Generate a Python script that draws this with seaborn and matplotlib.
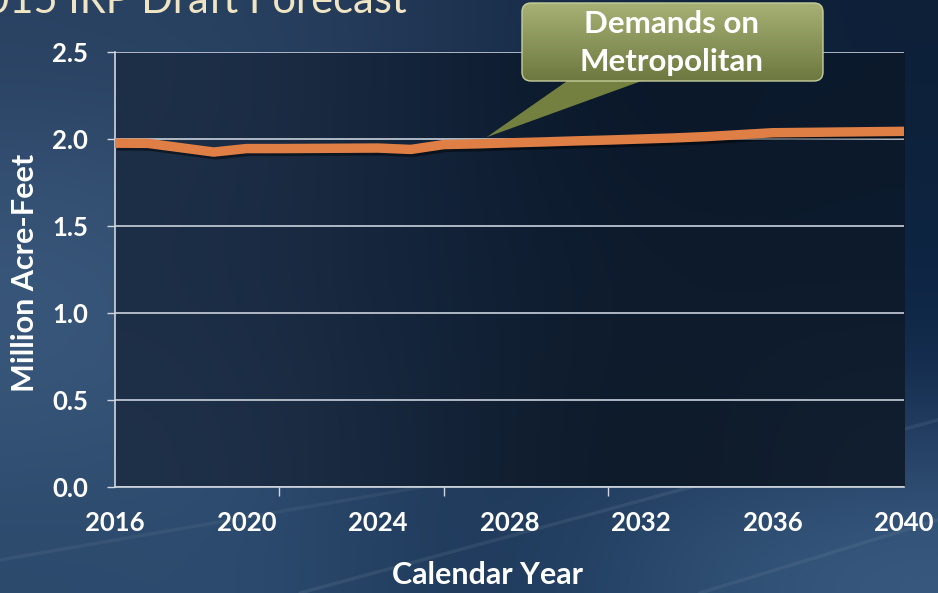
import numpy as np
import pandas as pd
import matplotlib
matplotlib.use("Agg")
import matplotlib.pyplot as plt
import matplotlib.patheffects as pe
from matplotlib.patches import FancyBboxPatch, Polygon
from matplotlib.colors import to_rgb
import seaborn as sns

# ---- data -------------------------------------------------------------
years = list(range(2016, 2041))
demand_maf = [1.976, 1.975, 1.950, 1.925, 1.945, 1.945, 1.946, 1.947, 1.948,
              1.940, 1.968, 1.972, 1.978, 1.983, 1.989, 1.994, 2.000, 2.006,
              2.014, 2.025, 2.036, 2.038, 2.040, 2.042, 2.044]
x_label_years = [2016, 2020, 2024, 2028, 2032, 2036, 2040]
x_mark_years = [2016, 2021, 2026, 2031, 2036]
y_ticks = [0.0, 0.5, 1.0, 1.5, 2.0, 2.5]

title_text = "2015 IRP Draft Forecast"
callout_lines = ["Demands on", "Metropolitan"]
x_title = "Calendar Year"
y_title = "Million Acre-Feet"

df = pd.DataFrame({"year": years, "demand": demand_maf})

plt.rcParams["font.family"] = ["Lato", "DejaVu Sans"]

W, H = 938, 593
fig = plt.figure(figsize=(W / 100, H / 100), dpi=100)


def rgb_grid(rows):
    return np.array([[to_rgb(c) for c in r] for r in rows])


# ---- slide backdrop ---------------------------------------------------
bg = fig.add_axes([0, 0, 1, 1], zorder=0)
backdrop = rgb_grid([
    ["#2a4262", "#28405f", "#1e3350", "#122540", "#0e2038"],
    ["#38567a", "#2e4a6c", "#1a2e48", "#10223a", "#0c2440"],
    ["#3a587b", "#2f4c6e", "#203858", "#1a3250", "#10284a"],
    ["#2c4a6c", "#2d4c70", "#1c3656", "#2a4a6e", "#3a5a80"],
])
bg.imshow(backdrop, extent=[0, W, H, 0], interpolation="bicubic", aspect="auto")
# faint diagonal light streaks across the backdrop
for (x0, y0, x1, y1, a) in [(300, 593, 938, 420, 0.07), (0, 560, 520, 470, 0.05),
                            (700, 593, 938, 520, 0.06)]:
    bg.plot([x0, x1], [y0, y1], color="white", alpha=a, lw=2.5,
            solid_capstyle="round")
bg.set_xlim(0, W)
bg.set_ylim(H, 0)
bg.axis("off")

fig.text(407 / W, (H - 12.7) / H, title_text, ha="right", va="baseline",
         fontsize=30, color="#efe4c4")

# ---- chart area -------------------------------------------------------
ax = fig.add_axes([115 / W, 106 / H, 789 / W, 435 / H], zorder=1)
ax.patch.set_alpha(0)
plot_shade = rgb_grid([
    ["#1e3048", "#14243a", "#0a1628", "#0b1a2c"],
    ["#1c2e46", "#13233a", "#0e1c2e", "#0c1a2c"],
    ["#1f3149", "#16263c", "#0c1826", "#121f30"],
])
ax.imshow(plot_shade, extent=[0, 1, 0, 1], transform=ax.transAxes,
          interpolation="bicubic", aspect="auto", zorder=0)

sns.lineplot(data=df, x="year", y="demand", ax=ax, color="#e07f45",
             linewidth=6.8, solid_capstyle="butt", zorder=4,
             path_effects=[pe.SimpleLineShadow(offset=(1.5, -2), alpha=0.45,
                                               shadow_color="black"),
                           pe.Normal()])

ax.set_xlim(years[0], years[-1])
ax.set_ylim(y_ticks[0], y_ticks[-1])
ax.set_aspect("auto")

axis_col = "#d0d6de"
ax.set_yticks(y_ticks)
ax.set_yticklabels([f"{v:.1f}" for v in y_ticks], fontweight="bold")
ax.grid(axis="y", color="#c9d1dc", linewidth=1.2, zorder=1)
ax.grid(axis="x", visible=False)
ax.tick_params(axis="y", length=6, width=1, color=axis_col, pad=13.5,
               labelsize=18.5, labelcolor="white")

ax.set_xticks(x_label_years)
ax.set_xticklabels([str(y) for y in x_label_years], fontweight="bold")
ax.set_xticks(x_mark_years, minor=True)
ax.tick_params(axis="x", which="major", length=0, pad=17, labelsize=18.5,
               labelcolor="white")
ax.tick_params(axis="x", which="minor", length=6.5, width=1, color=axis_col)

for side in ("top", "right"):
    ax.spines[side].set_visible(False)
for side in ("left", "bottom"):
    ax.spines[side].set_color(axis_col)
    ax.spines[side].set_linewidth(1.2)

ax.set_xlabel(x_title, fontsize=22, fontweight="bold", color="white", va="center")
ax.xaxis.set_label_coords((487 - 115) / 789, (487 - 575) / 435)
ax.set_ylabel(y_title, fontsize=22, fontweight="bold", color="white", va="center")
ax.yaxis.set_label_coords((25 - 115) / 789, (487 - 273) / 435)

# ---- callout ----------------------------------------------------------
ov = fig.add_axes([0, 0, 1, 1], zorder=5)
ov.patch.set_alpha(0)

tip_x, tip_y = ax.transData.transform((2027.3, 2.01))
tip_y = H - tip_y

tail = Polygon([(570, 79), (647, 79), (tip_x, tip_y)], closed=True,
               fc="#74803f", ec="none", zorder=1)
ov.add_patch(tail)

box = FancyBboxPatch((522, 3), 301, 78,
                     boxstyle="round,pad=0,rounding_size=9",
                     fc="none", ec="#c6cd9c", lw=1.0, zorder=3)
ov.add_patch(box)
shade = np.linspace(0, 1, 64)[:, None, None]
top_c, bot_c = np.array(to_rgb("#a7b175")), np.array(to_rgb("#6d7840"))
box_img = top_c * (1 - shade) + bot_c * shade
img = ov.imshow(np.repeat(box_img, 4, axis=1), extent=[522, 823, 81, 3],
                aspect="auto", interpolation="bicubic", zorder=2)
img.set_clip_path(box)

for text, y in zip(callout_lines, (24, 62)):
    ov.text(672, y, text, ha="center", va="center", fontsize=22.5,
            fontweight="bold", color="white", zorder=4)

ov.set_xlim(0, W)
ov.set_ylim(H, 0)
ov.axis("off")

fig.savefig("out.png", dpi=100)
